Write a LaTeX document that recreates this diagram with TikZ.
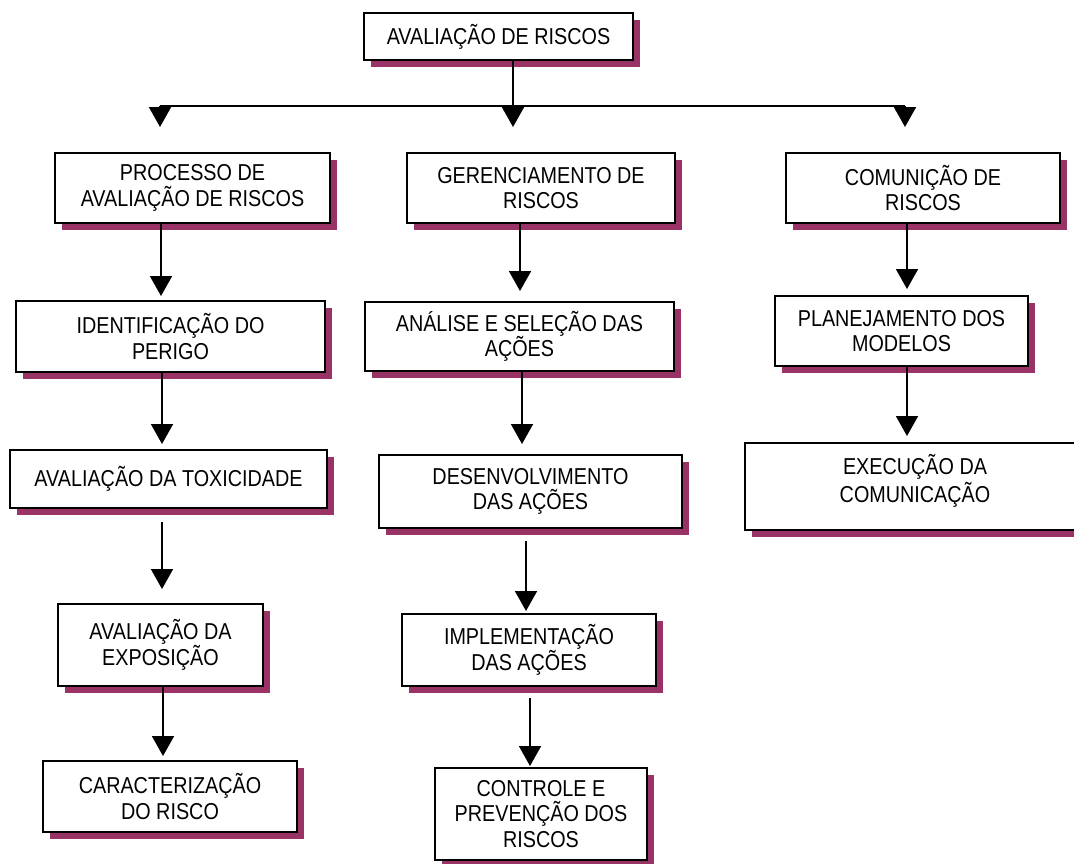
\documentclass[tikz,border=0pt]{standalone}
\usepackage{fontspec}
\setmainfont{Liberation Sans}[FakeStretch=0.86]
\usetikzlibrary{arrows.meta,shadows}
\definecolor{plum}{HTML}{993366}
\tikzset{
  riskbox/.style={draw=black, line width=2pt, fill=white, inner sep=0pt,
    align=center, font=\fontsize{23}{25.5}\selectfont,
    general shadow={fill=plum, shadow xshift=7pt, shadow yshift=-7pt}},
  arr/.style={line width=1.8pt, -{Triangle[width=22pt,length=20pt]}},
  link/.style={line width=1.8pt}
}
\newcommand\rbox[6]{%
  \node[riskbox, minimum width=#4pt, minimum height=#5pt] (#1) at (#2,#3) {#6};}
\begin{document}
\begin{tikzpicture}[x=1pt,y=-1pt]
\useasboundingbox (0,0) rectangle (1074,863);

% boxes: name, centre x, centre y, width, height, text
\rbox{top}{498.5}{36.5}{269}{47}{AVALIAÇÃO DE RISCOS}
\rbox{proc}{192.5}{188}{275}{70}{PROCESSO DE\\AVALIAÇÃO DE RISCOS}
\rbox{ger}{541}{188}{268}{70}{GERENCIAMENTO DE\\RISCOS}
\rbox{com}{923}{188}{274}{70}{COMUNIÇÃO DE\\RISCOS}
\rbox{ident}{170.5}{336.5}{309}{71}{IDENTIFICAÇÃO DO\\PERIGO}
\rbox{tox}{168.5}{479}{317}{58}{AVALIAÇÃO DA TOXICIDADE}
\rbox{expo}{160.5}{645}{205}{82}{AVALIAÇÃO DA\\EXPOSIÇÃO}
\rbox{carac}{170}{796.5}{254}{71}{CARACTERIZAÇÃO\\DO RISCO}
\rbox{anal}{519.5}{336.5}{309}{69}{ANÁLISE E SELEÇÃO DAS\\AÇÕES}
\rbox{desenv}{530.5}{491.5}{303}{73}{DESENVOLVIMENTO\\DAS AÇÕES}
\rbox{impl}{529}{650}{254}{72}{IMPLEMENTAÇÃO\\DAS AÇÕES}
\rbox{ctrl}{541}{814}{212}{92}{CONTROLE E\\PREVENÇÃO DOS\\RISCOS}
\rbox{plan}{901.5}{331}{253}{70}{PLANEJAMENTO DOS\\MODELOS}
\rbox{exec}{915}{486.5}{340}{87}{\raisebox{4pt}[\height][\depth]{%
  \begin{tabular}{@{}c@{}}EXECUÇÃO DA\\COMUNICAÇÃO\end{tabular}}}

% column positions of the connectors
\coordinate (cL) at (160,106);
\coordinate (cM) at (513,106);
\coordinate (cR) at (905,106);
\coordinate (a1) at (161,0);
\coordinate (a2) at (162,0);
\coordinate (a3) at (163,0);
\coordinate (b1) at (520,0);
\coordinate (b2) at (522,0);
\coordinate (b3) at (526,0);
\coordinate (b4) at (530,0);
\coordinate (r1) at (907,0);

% branching from the top box
\draw[link] (top.south -| cM) -- (cM);
\draw[link] (cL) -- (cR);
\draw[arr, shorten >=25pt] (cL) -- (proc.north -| cL);
\draw[arr, shorten >=25pt] (cM) -- (ger.north -| cM);
\draw[arr, shorten >=25pt] (cR) -- (com.north -| cR);

% left column
\draw[arr, shorten >=4pt] (proc.south -| a1) -- (ident.north -| a1);
\draw[arr, shorten >=5pt] (ident.south -| a2) -- (tox.north -| a2);
\draw[arr, shorten <=13pt, shorten >=14pt] (tox.south -| a2) -- (expo.north -| a2);
\draw[arr, shorten >=4pt] (expo.south -| a3) -- (carac.north -| a3);

% middle column
\draw[arr, shorten >=10pt] (ger.south -| b1) -- (anal.north -| b1);
\draw[arr, shorten >=10pt] (anal.south -| b2) -- (desenv.north -| b2);
\draw[arr, shorten <=12pt, shorten >=2pt] (desenv.south -| b3) -- (impl.north -| b3);
\draw[arr, shorten <=11pt, shorten >=1pt] (impl.south -| b4) -- (ctrl.north -| b4);

% right column
\draw[arr, shorten >=6pt] (com.south -| r1) -- (plan.north -| r1);
\draw[arr, shorten >=6pt] (plan.south -| r1) -- (exec.north -| r1);
\end{tikzpicture}
\end{document}
